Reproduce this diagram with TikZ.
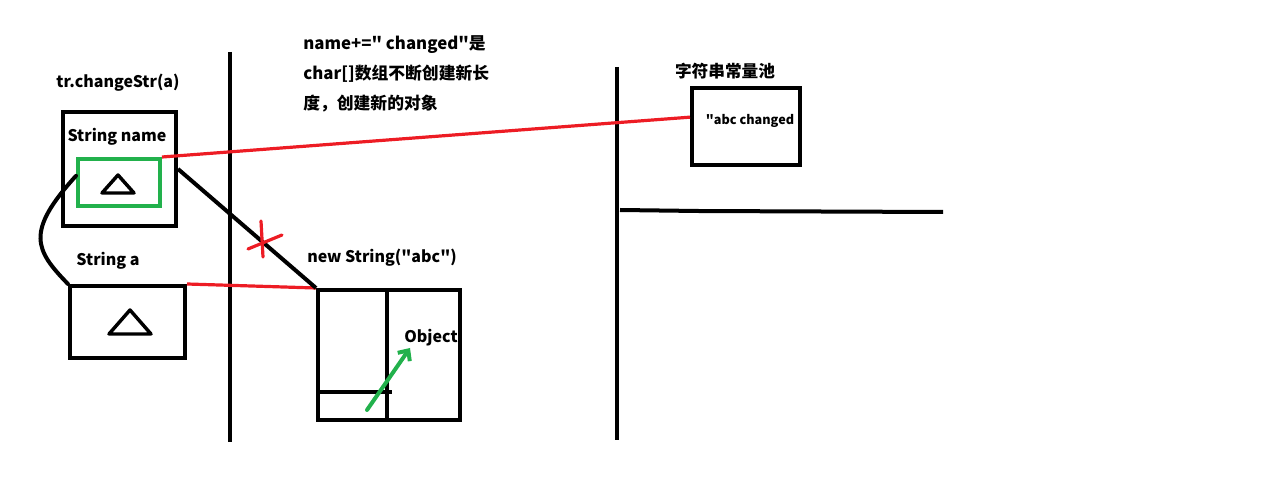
\documentclass[tikz,border=0pt]{standalone}
\usepackage{fontspec}
\setmainfont{Noto Sans CJK SC}[Ligatures=TeXOff]
\usetikzlibrary{arrows.meta,calc}
\newlength\pxu
\setlength\pxu{0.75pt}
\tikzset{
  blk/.style={line width=3pt,black},
  redl/.style={line width=2.4pt,draw={rgb,255:red,237;green,28;blue,36}},
  grn/.style={line width=3pt,draw={rgb,255:red,34;green,177;blue,76}},
  box/.style={draw,blk,rectangle,inner sep=0pt},
  lbl/.style={font=\fontsize{12}{14}\selectfont\bfseries,inner sep=0pt},
  tri/.style={line width=2.6pt,line join=round,line cap=round}
}
\begin{document}
\begin{tikzpicture}[x=\pxu,y=-\pxu]
\useasboundingbox (0,0) rectangle (1271,484);
% vertical separators
\coordinate (v1t) at (230,52);  \coordinate (v1b) at (230,442);
\coordinate (v2t) at (617,67);  \coordinate (v2b) at (617,440);
\coordinate (hl) at (620,210);  \coordinate (hm) at (698,211); \coordinate (hr) at (943,212);
\draw[blk] (v1t) -- (v1b);
\draw[blk] (v2t) -- (v2b);
\draw[blk] (hl) -- (hm) -- (hr);
% boxes
\node[box,minimum width=113\pxu,minimum height=114\pxu] (nameBox) at (119.5,169) {};
\node[box,grn,minimum width=82\pxu,minimum height=47\pxu] (greenBox) at (119,182.5) {};
\node[box,minimum width=115\pxu,minimum height=72\pxu] (aBox) at (127.5,322) {};
\node[box,minimum width=142\pxu,minimum height=130\pxu] (objBox) at (389,355) {};
\node[box,minimum width=108\pxu,minimum height=77\pxu] (poolBox) at (746,126.5) {};
% triangles
\draw[tri] (118,175) -- (134,193) -- (102,193) -- cycle;
\draw[tri] (130,310) -- (151,334) -- (109,334) -- cycle;
% object box inner lines
\draw[blk] (387,290) -- (387,420);
\draw[blk] (318,392) -- (392,392);
% labels
\node[lbl] (tr) at (118,83) {tr.changeStr(a)};
\node[lbl] (sn) at (117,137) {String name};
\node[lbl] (sa) at (108,261) {String a};
\node[lbl] (ns) at (382,258) {new String("abc")};
\node[lbl] (obj) at (431,338) {Object};
\node[lbl,font=\fontsize{12.5}{14}\selectfont\bfseries] (pool) at (725,71) {字符串常量池};
\node[lbl,font=\fontsize{9.5}{11}\selectfont\bfseries] (abc) at (750,121) {"abc changed};
\node[lbl,anchor=west,align=left,font=\fontsize{12.6}{22.5}\selectfont\bfseries] (note) at (303,73.5)
  {name+=" changed"是\\char[]数组不断创建新长\\度，创建新的对象};
% connectors
\draw[redl] (greenBox.north east) -- ([yshift=7pt]poolBox.west);
\draw[redl] (aBox.north east) -- (objBox.north west);
\draw[blk] (nameBox.east) -- (objBox.north west);
\draw[blk,line cap=round] ([yshift=5pt]greenBox.west) .. controls (25,232) and (35,250) .. (aBox.north west);
% red cross
\coordinate (x1) at (261,221); \coordinate (x2) at (263,257);
\coordinate (x3) at (248,249); \coordinate (x4) at (282,235);
\draw[redl,line cap=round] (x1) -- (x2);
\draw[redl,line cap=round] (x3) -- (x4);
% green arrow
\coordinate (ga) at (367,410); \coordinate (gb) at (410,348);
\draw[grn,line cap=round,-{Straight Barb[length=6pt,width=11pt]}] (ga) -- (gb);
\end{tikzpicture}
\end{document}
